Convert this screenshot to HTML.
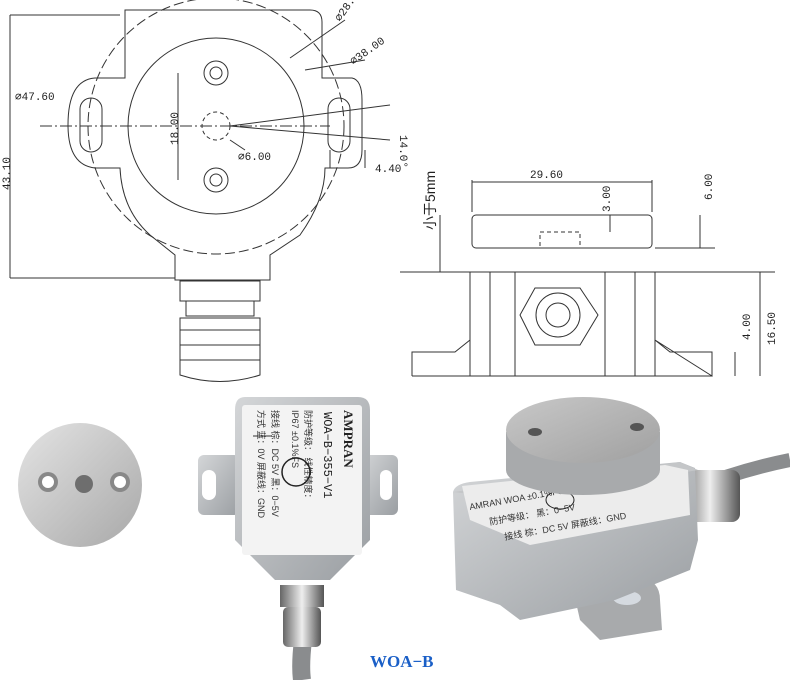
<!DOCTYPE html>
<html><head><meta charset="utf-8"><style>
body{margin:0;background:#fff;width:790px;height:680px;overflow:hidden}
svg{display:block}
text{font-family:"Liberation Mono",monospace;font-size:11px;fill:#222}
.cj{font-family:"Liberation Sans","Noto Sans CJK SC",sans-serif;font-size:9px;fill:#333}
</style></head><body>
<svg width="790" height="680" viewBox="0 0 790 680" xmlns="http://www.w3.org/2000/svg">
<defs>
<linearGradient id="met" x1="0" y1="0" x2="1" y2="1"><stop offset="0" stop-color="#d4d6d8"/><stop offset="1" stop-color="#9a9ea2"/></linearGradient>
<linearGradient id="disc" x1="0" y1="0" x2="1" y2="1"><stop offset="0" stop-color="#e4e4e4"/><stop offset="1" stop-color="#a8a8a8"/></linearGradient>
<linearGradient id="top" x1="0" y1="0" x2="1" y2="1"><stop offset="0" stop-color="#c8c8c8"/><stop offset="1" stop-color="#a0a0a0"/></linearGradient>
<linearGradient id="chr" x1="0" y1="0" x2="1" y2="0"><stop offset="0" stop-color="#666"/><stop offset="0.5" stop-color="#eee"/><stop offset="1" stop-color="#555"/></linearGradient>
</defs>
<g stroke="#333" fill="none" stroke-width="1">
<path d="M125,10 H310 Q322,10 322,22 V78 L352,78 Q362,80 362,100 V150 Q362,168 348,168 L325,168 Q325,200 300,235 L270,255 V280 H175 V255 L150,235 Q122,210 120,168 L95,168 Q68,165 68,125 Q68,80 95,78 L125,78 Z"/>
<circle cx="216" cy="126" r="88"/>
<circle cx="216" cy="126" r="128" stroke-dasharray="10,4"/>
<rect x="80" y="98" width="22" height="54" rx="11"/>
<rect x="328" y="98" width="22" height="54" rx="11"/>
<circle cx="216" cy="73" r="12"/><circle cx="216" cy="73" r="6"/>
<circle cx="216" cy="180" r="12"/><circle cx="216" cy="180" r="6"/>
<circle cx="216" cy="126" r="14" stroke-dasharray="4,3"/>
<line x1="40" y1="126" x2="330" y2="126" stroke-dasharray="12,3,2,3"/>
<line x1="230" y1="126" x2="390" y2="105"/><line x1="230" y1="126" x2="390" y2="140"/>
<line x1="178" y1="73" x2="178" y2="180"/>
<line x1="10" y1="15" x2="10" y2="278"/>
<line x1="10" y1="15" x2="120" y2="15"/><line x1="10" y1="278" x2="175" y2="278"/>
<line x1="330" y1="150" x2="330" y2="168"/><line x1="365" y1="150" x2="365" y2="168"/>
<line x1="290" y1="58" x2="345" y2="20"/><line x1="305" y1="70" x2="365" y2="60"/>
<line x1="230" y1="140" x2="245" y2="150"/>
<rect x="180" y="281" width="80" height="20"/>
<rect x="186" y="301" width="68" height="15"/>
<path d="M180,318 H260 V375 Q220,388 180,375 Z"/>
<line x1="180" y1="330" x2="260" y2="330"/><line x1="180" y1="345" x2="260" y2="345"/><line x1="180" y1="360" x2="260" y2="360"/>
<rect x="472" y="215" width="180" height="33" rx="4"/>
<rect x="540" y="232" width="40" height="16" stroke-dasharray="4,3"/>
<rect x="470" y="272" width="185" height="104"/>
<line x1="490" y1="272" x2="490" y2="376"/><line x1="635" y1="272" x2="635" y2="376"/>
<line x1="515" y1="272" x2="515" y2="376"/><line x1="605" y1="272" x2="605" y2="376"/>
<path d="M412,376 V352 H455 L470,340 M655,340 L670,352 H712 V376 Z M412,376 H712"/>
<polygon points="535,288 580,288 598,315 580,345 535,345 520,315"/>
<circle cx="558" cy="315" r="22"/><circle cx="558" cy="315" r="12"/>
<line x1="472" y1="180" x2="472" y2="212"/><line x1="652" y1="180" x2="652" y2="212"/>
<line x1="472" y1="182" x2="652" y2="182"/>
<line x1="440" y1="215" x2="440" y2="272"/>
<line x1="400" y1="272" x2="775" y2="272"/>
<line x1="700" y1="215" x2="700" y2="248"/><line x1="610" y1="215" x2="610" y2="232"/>
<line x1="760" y1="272" x2="760" y2="376"/><line x1="735" y1="352" x2="735" y2="376"/>
<line x1="655" y1="248" x2="715" y2="248"/>
</g>
<text x="15" y="100">⌀47.60</text>
<text x="340" y="22" transform="rotate(-55 340 22)">⌀28.00</text>
<text x="353" y="65" transform="rotate(-35 353 65)">⌀38.00</text>
<text x="375" y="172">4.40</text>
<text x="238" y="160">⌀6.00</text>
<text x="178" y="145" transform="rotate(-90 178 145)">18.00</text>
<text x="10" y="190" transform="rotate(-90 10 190)">43.10</text>
<text x="400" y="135" transform="rotate(90 400 135)">14.0°</text>
<text x="530" y="178">29.60</text>
<text x="610" y="212" transform="rotate(-90 610 212)">3.00</text>
<text x="712" y="200" transform="rotate(-90 712 200)">6.00</text>
<text x="775" y="345" transform="rotate(-90 775 345)">16.50</text>
<text x="750" y="340" transform="rotate(-90 750 340)">4.00</text>
<text x="435" y="230" transform="rotate(-90 435 230)" style="font-family:'Liberation Sans','Noto Sans CJK SC',sans-serif;font-size:14px">小于5mm</text>
<circle cx="80" cy="485" r="62" fill="url(#disc)"/>
<circle cx="48" cy="482" r="10" fill="#888"/><circle cx="48" cy="482" r="6" fill="#fff"/>
<circle cx="120" cy="482" r="10" fill="#888"/><circle cx="120" cy="482" r="6" fill="#fff"/>
<circle cx="84" cy="484" r="9" fill="#6e6e6e"/>
<!-- middle photo -->
<path d="M303,640 Q300,665 302,680" stroke="#8a8c8e" stroke-width="18" fill="none"/>
<rect x="198" y="455" width="42" height="60" rx="6" fill="url(#met)"/>
<rect x="202" y="470" width="14" height="30" rx="7" fill="#fff"/>
<rect x="360" y="455" width="38" height="60" rx="6" fill="url(#met)"/>
<rect x="380" y="470" width="12" height="30" rx="6" fill="#fff"/>
<path d="M245,397 H358 Q370,397 370,410 V540 L330,580 H275 L235,540 V410 Q235,397 245,397 Z" fill="url(#met)"/>
<rect x="242" y="405" width="120" height="150" rx="3" fill="#f3f3f3"/>
<text x="344" y="410" transform="rotate(90 344 410)" style="font-family:'Liberation Serif',serif;font-weight:bold;font-size:13px">AMPRAN</text>
<text x="324" y="412" transform="rotate(90 324 412)" style="font-size:12px">WOA−B−355−V1</text>
<text x="305" y="410" transform="rotate(90 305 410)" class="cj">防护等级：      线性精度：</text>
<text x="292" y="410" transform="rotate(90 292 410)" class="cj">IP67               ±0.1%FS</text>
<text x="272" y="410" transform="rotate(90 272 410)" class="cj">接线 棕：DC 5V 黑：0−5V</text>
<text x="258" y="410" transform="rotate(90 258 410)" class="cj">方式 蓝：0V  屏蔽线：GND</text>
<line x1="253" y1="436" x2="272" y2="436" stroke="#333"/>
<circle cx="296" cy="472" r="14" fill="none" stroke="#222" stroke-width="1.5"/>
<rect x="280" y="585" width="44" height="22" fill="url(#chr)"/>
<rect x="283" y="607" width="38" height="40" rx="5" fill="url(#chr)"/>
<!-- right photo -->
<path d="M690,490 Q740,470 790,460" stroke="#8a8c8e" stroke-width="14" fill="none"/>
<rect x="680" y="470" width="60" height="52" rx="8" fill="url(#chr)"/>
<path d="M572,585 L640,578 Q660,580 660,600 L662,630 L600,640 L580,620 Z" fill="#a8aaac"/>
<ellipse cx="627" cy="598" rx="14" ry="7" fill="#d5dae0"/>
<path d="M453,492 Q455,484 470,482 L680,462 L695,468 L698,540 L690,570 L615,600 L520,620 L500,605 L456,590 Z" fill="url(#met)"/>
<path d="M453,492 L680,462 L698,470 L520,500 Z" fill="#c4c6c8"/>
<path d="M462,486 L665,465 L688,470 L690,515 L530,545 L470,520 Z" fill="#ececec"/>
<text x="470" y="510" class="cj" transform="rotate(-10 470 510)">AMRAN WOA     ±0.1%FS</text>
<text x="490" y="525" class="cj" transform="rotate(-10 490 525)">防护等级：  黑：0−5V</text>
<text x="505" y="540" class="cj" transform="rotate(-10 505 540)">接线 棕：DC 5V 屏蔽线：GND</text>
<ellipse cx="560" cy="500" rx="14" ry="9" fill="none" stroke="#222"/>
<path d="M506,432 V470 A77,25 0 0 0 660,470 V432 Z" fill="#a8aaac"/>
<ellipse cx="583" cy="430" rx="77" ry="33" fill="url(#top)"/>
<ellipse cx="535" cy="432" rx="7" ry="4" fill="#555"/><ellipse cx="637" cy="427" rx="7" ry="4" fill="#555"/>
<text x="370" y="667" style="font-family:'Liberation Serif',serif;font-weight:bold;font-size:17px;fill:#1a5fc7">WOA−B</text>
</svg>
</body></html>
